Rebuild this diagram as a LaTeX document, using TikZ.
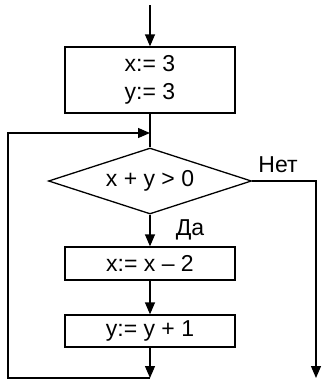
\documentclass[tikz,border=0pt]{standalone}
\usepackage{fontspec}
\setmainfont{Liberation Sans}
\usetikzlibrary{shapes.geometric,arrows.meta}
\begin{document}
\begin{tikzpicture}[x=1pt,y=-1pt,
  every node/.style={font=\fontsize{23}{28}\selectfont},
  blk/.style={draw,line width=1.3pt,rectangle,minimum width=170pt,inner sep=0pt,align=center},
  cond/.style={draw,line width=1.3pt,diamond,aspect=3.08,minimum width=203pt,minimum height=66pt,inner sep=0pt},
  line/.style={line width=1.3pt},
  arr/.style={line width=1.3pt,-{Triangle[length=12pt,width=10pt]}},
  lbl/.style={inner sep=0pt}]
\useasboundingbox (0,0) rectangle (324,381);
\coordinate (start) at (150,5);
\node[blk,minimum height=66pt] (b1) at (150,80) {x:= 3\\y:= 3};
\coordinate (join) at (150,133);
\node[cond] (d) at (150,181) {x + y > 0};
\node[blk,minimum height=33pt] (b2) at (150,263.5) {x:= x -- 2};
\node[blk,minimum height=32pt] (b3) at (150,331) {y:= y + 1};
\coordinate (bot) at (150,378);
\coordinate (bl) at (8,378);
\coordinate (tl) at (8,133);
\coordinate (rt) at (316,181);
\coordinate (rb) at (316,378);
\node[lbl] (net) at (278,165) {Нет};
\node[lbl] (da) at (190,230) {Да};
\draw[arr] (start) -- (b1.north);
\draw[line] (b1.south) -- (d.north);
\draw[arr] (d.south) -- (b2.north);
\draw[arr] (b2.south) -- (b3.north);
\draw[arr] (b3.south) -- (bot);
\draw[arr] (bot) -- (bl) -- (tl) -- (join);
\draw[arr] (d.east) -- (rt) -- (rb);
\end{tikzpicture}
\end{document}
